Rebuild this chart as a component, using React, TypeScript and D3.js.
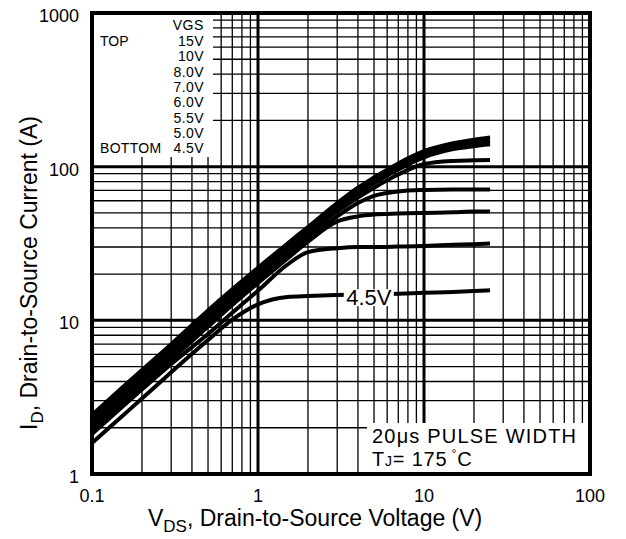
import React from 'react';
import * as d3 from 'd3';

// V_DS sample points (V)
const vds = [0.1, 0.15, 0.2, 0.3, 0.5, 0.7, 1, 1.5, 2, 3, 4, 5, 7, 10, 15, 20, 25];

// I_D (A) for each V_GS
const id15 = [2.42, 3.6, 4.75, 7.0, 11.6, 15.9, 22, 31.5, 40.5, 58, 73, 85, 105, 126, 142, 150, 155];
const id10 = [2.32, 3.45, 4.55, 6.75, 11.1, 15.3, 21.3, 30.5, 39.3, 56, 70, 82, 101, 121, 136, 143, 147];
const id8 = [2.22, 3.3, 4.35, 6.45, 10.6, 14.7, 20.5, 29.5, 38, 54, 67, 78, 96, 115, 130, 136, 140];
const id7 = [2.13, 3.17, 4.17, 6.15, 10.1, 14.0, 19.6, 28.2, 36.5, 51, 63, 73, 89, 104, 109, 110, 110.5];
const id6 = [2.04, 3.04, 4.0, 5.85, 9.6, 13.3, 18.6, 26.8, 34.5, 47.5, 58, 64.5, 69, 70.5, 71, 71, 71];
const id55 = [1.94, 2.88, 3.8, 5.55, 9.1, 12.6, 17.5, 25.2, 32.5, 44, 47.5, 48.8, 49.5, 50, 50.5, 51, 51];
const id5 = [1.82, 2.7, 3.55, 5.2, 8.15, 11.2, 15.6, 23, 27.8, 29.5, 30, 30, 30.2, 30.5, 31, 31.3, 31.6];
const id45 = [1.59, 2.35, 3.1, 4.6, 7.45, 10.1, 12.7, 14.2, 14.4, 14.6, 14.7, 14.8, 14.9, 15.1, 15.3, 15.5, 15.7];

const seriesList = [id15, id10, id8, id7, id6, id55, id5, id45];

const legendLabels = ['15V', '10V', '8.0V', '7.0V', '6.0V', '5.5V', '5.0V', '4.5V'];
const xTicks = [0.1, 1, 10, 100];
const xTickLabels = ['0.1', '1', '10', '100'];
const yTicks = [1, 10, 100, 1000];
const yTickLabels = ['1', '10', '100', '1000'];

const W = 626;
const H = 539;
const margin = { top: 13, right: 36, bottom: 65, left: 92 };
const font = 'Arial, "Liberation Sans", Helvetica, sans-serif';

export default function App() {
  const x = d3.scaleLog().domain([0.1, 100]).range([margin.left, W - margin.right]);
  const y = d3.scaleLog().domain([1, 1000]).range([H - margin.bottom, margin.top]);
  const [x0, x1] = x.range();
  const [y1, y0] = y.range();

  // minor grid values 2..9 of each decade
  const minorX: number[] = [];
  [0.1, 1, 10].forEach((d) => {
    for (let k = 2; k <= 9; k++) minorX.push(d * k);
  });
  const minorY: number[] = [];
  [1, 10, 100].forEach((d) => {
    for (let k = 2; k <= 9; k++) minorY.push(d * k);
  });

  const line = d3
    .line<number>()
    .x((_, i) => x(vds[i]))
    .y((d) => y(d))
    .curve(d3.curveMonotoneX);

  const lab45x = x(4.65);
  const lab45y = y(14.8);

  return (
    <svg width={W} height={H} style={{ display: 'block', position: 'absolute', left: 0, top: 0 }}>
      <rect width={W} height={H} fill="#fff" />
      {/* grid */}
      {minorX.map((v) => (
        <line key={'mx' + v} x1={x(v)} x2={x(v)} y1={y0} y2={y1} stroke="#000" strokeWidth={1.3} />
      ))}
      {minorY.map((v) => (
        <line key={'my' + v} x1={x0} x2={x1} y1={y(v)} y2={y(v)} stroke="#000" strokeWidth={1.3} />
      ))}
      {[1, 10].map((v) => (
        <line key={'Mx' + v} x1={x(v)} x2={x(v)} y1={y0} y2={y1} stroke="#000" strokeWidth={3} />
      ))}
      {[10, 100].map((v) => (
        <line key={'My' + v} x1={x0} x2={x1} y1={y(v)} y2={y(v)} stroke="#000" strokeWidth={3} />
      ))}

      {/* legend box */}
      <rect x={x0} y={y0} width={213 - x0} height={157 - y0} fill="#fff" />
      <g fontFamily={font} fontSize={14} fill="#000">
        <text x={204} y={30} textAnchor="end" letterSpacing={0.6}>VGS</text>
        <text x={100} y={46}>TOP</text>
        <text x={100} y={153} letterSpacing={0.3}>BOTTOM</text>
        {legendLabels.map((l, i) => (
          <text key={l} x={204} y={46 + i * 15.3} textAnchor="end" letterSpacing={0.4}>
            {l}
          </text>
        ))}
      </g>

      {/* pulse box */}
      <rect x={367} y={423} width={x1 - 367} height={y1 - 423} fill="#fff" />
      <g fontFamily={font} fontSize={20} fill="#000">
        <text x={372} y={443} letterSpacing={1.2}>20μs PULSE WIDTH</text>
        <text x={372} y={466} letterSpacing={0.8}>
          T<tspan fontSize={14}>J</tspan>= 175
          <tspan fontSize={12} dy={-8}> °</tspan>
          <tspan dy={8}>C</tspan>
        </text>
      </g>

      {/* curves */}
      {seriesList.map((s, i) => (
        <path key={i} d={line(s) || ''} fill="none" stroke="#000" strokeWidth={4} />
      ))}

      {/* 4.5V label */}
      <rect x={lab45x - 25} y={lab45y - 5} width={50} height={17} fill="#fff" />
      <text x={lab45x} y={lab45y + 11} textAnchor="middle" fontFamily={font} fontSize={22}>
        4.5V
      </text>

      {/* frame */}
      <rect x={x0} y={y0} width={x1 - x0} height={y1 - y0} fill="none" stroke="#000" strokeWidth={4} />

      {/* tick labels */}
      <g fontFamily={font} fontSize={18} fill="#000">
        {yTicks.map((v, i) => (
          <text key={'yt' + v} x={79} y={y(v) + 9} textAnchor="end">
            {yTickLabels[i]}
          </text>
        ))}
        {xTicks.map((v, i) => (
          <text key={'xt' + v} x={x(v)} y={502} textAnchor="middle">
            {xTickLabels[i]}
          </text>
        ))}
      </g>

      {/* axis titles */}
      <text x={148} y={526} fontFamily={font} fontSize={23}>
        V<tspan fontSize={17} dy={6}>DS</tspan>
        <tspan dy={-6}>, Drain-to-Source Voltage (V)</tspan>
      </text>
      <text transform={`translate(37, 430) rotate(-90)`} fontFamily={font} fontSize={23}>
        I<tspan fontSize={17} dy={6}>D</tspan>
        <tspan dy={-6}>, Drain-to-Source Current (A)</tspan>
      </text>
    </svg>
  );
}
